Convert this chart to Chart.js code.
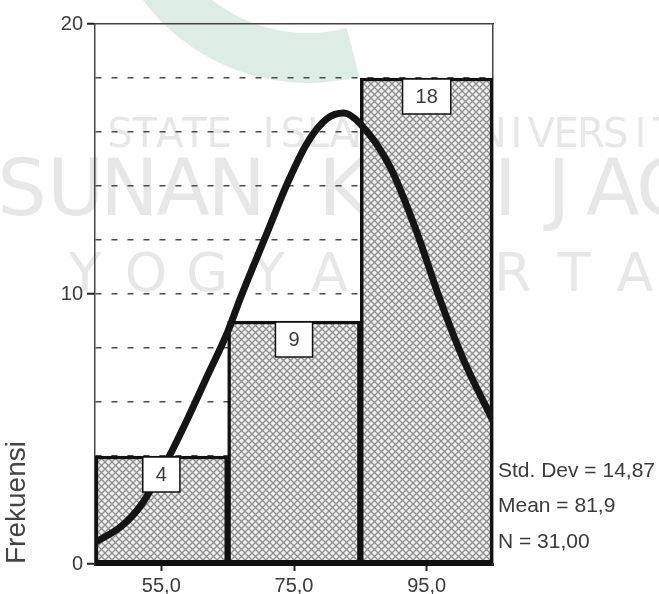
<!DOCTYPE html>
<html>
<head>
<meta charset="utf-8">
<script src="https://cdn.jsdelivr.net/npm/chart.js@4.4.0/dist/chart.umd.min.js"></script>
<style>
  html, body { margin: 0; padding: 0; background: #fff; }
  #wrap { position: relative; width: 659px; height: 594px; }
</style>
</head>
<body>
<div id="wrap"><canvas id="histChart"></canvas></div>
<script>
// histogram bins (class mid points) and counts
const binCenters = [55, 75, 95];
const binCounts = [4, 9, 18];

// normal curve
const curveX = [45, 49, 52, 56, 59, 62, 65, 67, 71, 74, 77, 80, 82.5, 85, 89.5, 93.5, 97, 100.5, 105];
const curveY = [0.8, 1.4, 2.2, 3.9, 5.4, 7.0, 8.6, 9.9, 12.3, 14.1, 15.6, 16.5, 16.7, 16.3, 14.7, 12.3, 9.8, 7.6, 5.3];

const xTickValues = [55, 75, 95];
const yTickLabels = [0, 10, 20];
const statsLines = ["Std. Dev = 14,87", "Mean = 81,9", "N = 31,00"];
const axisTitle = "Frekuensi";
const watermarkLines = ["STATE ISLAMIC UNIVERSITY", "SUNAN KALIJAGA", "YOGYAKARTA"];

const FONT = "'Liberation Sans', Arial, sans-serif";
const TEXT_COLOR = "#3a3a3a";

function makeHatch() {
  const c = document.createElement("canvas");
  c.width = 7;
  c.height = 7;
  const g = c.getContext("2d");
  g.fillStyle = "#f0f0f0";
  g.fillRect(0, 0, 7, 7);
  g.strokeStyle = "#8e8e8e";
  g.lineWidth = 1.3;
  g.beginPath();
  g.moveTo(0, 0);
  g.lineTo(7, 7);
  g.moveTo(7, 0);
  g.lineTo(0, 7);
  g.stroke();
  return g.createPattern(c, "repeat");
}

function spreadText(ctx, text, x0, x1, y) {
  const chars = text.split("");
  const step = (x1 - x0) / (chars.length - 1);
  chars.forEach((ch, i) => {
    ctx.fillText(ch, x0 + i * step, y);
  });
}

const watermarkPlugin = {
  id: "watermark",
  beforeDraw(chart) {
    const ctx = chart.ctx;
    ctx.save();
    ctx.fillStyle = "#fff";
    ctx.fillRect(0, 0, chart.width, chart.height);

    // pale green logo arc
    ctx.fillStyle = "rgba(160, 200, 182, 0.35)";
    ctx.beginPath();
    ctx.arc(308, -123, 206, Math.PI * 0.42, Math.PI * 0.85);
    ctx.arc(308, -123, 156, Math.PI * 0.85, Math.PI * 0.42, true);
    ctx.closePath();
    ctx.fill();

    ctx.fillStyle = "rgba(120, 120, 120, 0.18)";
    ctx.textAlign = "center";
    ctx.textBaseline = "middle";
    ctx.font = "40px 'DejaVu Sans', sans-serif";
    spreadText(ctx, watermarkLines[0], 120, 690, 137);
    ctx.font = "78px 'DejaVu Sans', sans-serif";
    spreadText(ctx, watermarkLines[1], 22, 720, 195);
    ctx.font = "54px 'DejaVu Sans', sans-serif";
    spreadText(ctx, watermarkLines[2], 85, 635, 277);
    ctx.restore();
  }
};

const barLabelPlugin = {
  id: "barLabels",
  afterDatasetsDraw(chart) {
    const meta = chart.getDatasetMeta(1);
    const ctx = chart.ctx;
    ctx.save();
    ctx.font = "20px " + FONT;
    meta.data.forEach((bar, i) => {
      const text = String(binCounts[i]);
      const w = ctx.measureText(text).width + 26;
      const h = 35;
      const x = bar.x - w / 2;
      const y = bar.y + 1;
      ctx.fillStyle = "#fff";
      ctx.fillRect(x, y, w, h);
      ctx.strokeStyle = "#111";
      ctx.lineWidth = 1.5;
      ctx.strokeRect(x, y, w, h);
      ctx.fillStyle = TEXT_COLOR;
      ctx.textAlign = "center";
      ctx.textBaseline = "middle";
      ctx.fillText(text, bar.x, y + h / 2 + 1);
    });
    ctx.restore();
  }
};

const statsPlugin = {
  id: "stats",
  afterDraw(chart) {
    const ctx = chart.ctx;
    const area = chart.chartArea;
    ctx.save();
    ctx.font = "21px " + FONT;
    ctx.fillStyle = TEXT_COLOR;
    ctx.textAlign = "left";
    ctx.textBaseline = "middle";
    statsLines.forEach((line, i) => {
      ctx.fillText(line, area.right + 5, area.bottom - 93 + i * 35.5);
    });
    ctx.restore();
  }
};

const ctx = document.getElementById("histChart").getContext("2d");

const chart = new Chart(ctx, {
  type: "bar",
  data: {
    datasets: [
      {
        type: "line",
        data: curveX.map((x, i) => ({ x: x, y: curveY[i] })),
        borderColor: "#151515",
        borderWidth: 7,
        pointRadius: 0,
        cubicInterpolationMode: "monotone",
        fill: false,
        order: 0
      },
      {
        type: "bar",
        data: binCenters.map((x, i) => ({ x: x, y: binCounts[i] })),
        backgroundColor: makeHatch(),
        borderColor: "#111",
        borderWidth: 3.5,
        borderSkipped: false,
        barPercentage: 1,
        categoryPercentage: 1,
        order: 1
      }
    ]
  },
  options: {
    responsive: true,
    maintainAspectRatio: false,
    animation: false,
    layout: {
      padding: { left: 0, top: 24, right: 166, bottom: 0 }
    },
    plugins: {
      legend: { display: false },
      tooltip: { enabled: false }
    },
    scales: {
      x: {
        type: "linear",
        min: 45,
        max: 105,
        offset: false,
        afterBuildTicks: (scale) => {
          scale.ticks = xTickValues.map((v) => ({ value: v }));
        },
        afterFit: (scale) => {
          scale.height = 30;
        },
        ticks: {
          autoSkip: false,
          maxRotation: 0,
          padding: 3,
          color: TEXT_COLOR,
          font: { family: FONT, size: 20 },
          callback: (v) => v.toFixed(1).replace(".", ",")
        },
        grid: {
          offset: false,
          drawOnChartArea: false,
          tickLength: 7,
          tickWidth: 2,
          tickColor: "#222"
        },
        border: {
          color: "#111",
          width: 3
        }
      },
      xTop: {
        type: "linear",
        position: "top",
        min: 45,
        max: 105,
        ticks: { display: false },
        grid: { display: false },
        border: { color: "#444", width: 1.5 },
        afterFit: (scale) => {
          scale.height = 0;
        }
      },
      y: {
        min: 0,
        max: 20,
        afterFit: (scale) => {
          scale.width = 95;
        },
        ticks: {
          stepSize: 2,
          autoSkip: false,
          padding: 4,
          color: TEXT_COLOR,
          font: { family: FONT, size: 20 },
          callback: (v) => (yTickLabels.includes(v) ? String(v) : "")
        },
        grid: {
          tickLength: 8,
          tickWidth: 2,
          lineWidth: 1.5,
          color: (c) => (c.tick && (c.tick.value === 0 || c.tick.value === 20) ? "rgba(0,0,0,0)" : "#4a4a4a"),
          tickColor: (c) => (c.tick && yTickLabels.includes(c.tick.value) ? "#222" : "rgba(0,0,0,0)")
        },
        border: {
          color: "#444",
          width: 1.5,
          dash: [6, 10]
        },
        title: {
          display: true,
          text: axisTitle,
          align: "start",
          color: "#444",
          padding: 0,
          font: { family: FONT, size: 28 }
        }
      },
      yRight: {
        position: "right",
        min: 0,
        max: 20,
        ticks: { display: false },
        grid: { display: false },
        border: { color: "#444", width: 1.5 },
        afterFit: (scale) => {
          scale.width = 0;
        }
      }
    }
  },
  plugins: [watermarkPlugin, barLabelPlugin, statsPlugin]
});
</script>
</body>
</html>
